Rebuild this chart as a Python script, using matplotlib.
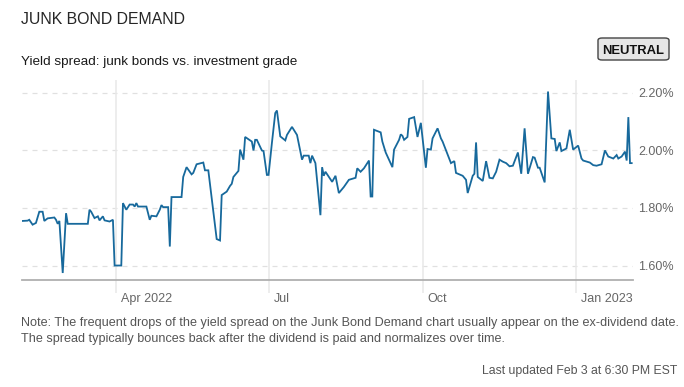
import matplotlib
matplotlib.use("Agg")
import matplotlib.pyplot as plt
import matplotlib.transforms as mtransforms
from matplotlib.patches import FancyBboxPatch
import pandas as pd

plt.rcParams['font.family'] = ['Liberation Sans', 'DejaVu Sans']

# spread readings, days counted from the first date
start_date = '2022-02-04'
day_offset = [0, 3, 4, 6, 8, 10, 12, 13, 15, 19, 20, 21, 22, 24, 26, 27, 39, 40, 41, 43,
              45, 46, 48, 49, 52, 54, 55, 59, 60, 62, 64, 66, 67, 68, 69, 74, 76, 77, 80, 82,
              83, 84, 87, 88, 89, 95, 96, 98, 101, 102, 104, 108, 109, 111, 116, 118, 119, 122, 124, 125,
              126, 129, 130, 132, 133, 137, 138, 139, 140, 143, 144, 146, 147, 149, 151, 152, 154, 157, 158, 161,
              164, 167, 168, 171, 172, 173, 175, 178, 179, 180, 181, 185, 187, 189, 192, 195, 199, 200, 202, 204,
              207, 208, 209, 210, 214, 215, 217, 221, 222, 225, 226, 227, 228, 230, 231, 234, 236, 238, 241, 242,
              244, 245, 248, 250, 251, 256, 258, 259, 263, 265, 266, 269, 270, 271, 272, 275, 277, 279, 281, 283,
              285, 287, 289, 291, 293, 296, 298, 300, 302, 305, 306, 308, 309, 312, 314, 316, 318, 319, 321, 322,
              325, 327, 329, 332, 334, 335, 339, 341, 343, 346, 348, 350, 353, 355, 356, 358, 360, 361, 362, 363,
              364]
spread = [1.755, 1.756, 1.759, 1.742, 1.748, 1.787, 1.787, 1.755, 1.764, 1.767, 1.759, 1.745, 1.755, 1.574, 1.782, 1.745, 1.745, 1.794, 1.787, 1.765,
          1.771, 1.757, 1.771, 1.757, 1.753, 1.759, 1.600, 1.600, 1.817, 1.794, 1.812, 1.812, 1.805, 1.817, 1.805, 1.805, 1.759, 1.773, 1.771, 1.794,
          1.810, 1.803, 1.803, 1.666, 1.838, 1.838, 1.908, 1.942, 1.917, 1.922, 1.952, 1.958, 1.931, 1.931, 1.692, 1.687, 1.845, 1.857, 1.877, 1.884,
          1.908, 1.929, 2.003, 1.968, 2.047, 2.031, 2.000, 2.037, 2.037, 2.000, 1.998, 1.915, 1.915, 2.026, 2.130, 2.139, 2.049, 2.035, 2.054, 2.082,
          2.054, 1.968, 1.982, 1.982, 1.956, 1.982, 1.956, 1.775, 1.942, 1.912, 1.926, 1.891, 1.912, 1.852, 1.873, 1.898, 1.905, 1.938, 1.926, 1.938,
          1.965, 1.840, 1.840, 2.072, 2.063, 2.031, 1.993, 1.942, 2.003, 2.037, 2.056, 2.051, 2.037, 2.047, 2.110, 2.116, 2.047, 2.096, 1.940, 2.005,
          2.003, 2.042, 2.077, 2.042, 2.031, 1.956, 1.963, 1.922, 1.912, 1.898, 1.852, 1.912, 1.919, 2.028, 1.908, 1.894, 1.963, 1.905, 1.903, 1.926,
          1.968, 1.961, 1.956, 1.945, 1.947, 1.993, 1.919, 2.077, 1.919, 1.977, 1.975, 1.940, 1.940, 1.889, 2.205, 2.042, 2.040, 1.998, 2.028, 1.998,
          2.007, 2.072, 2.003, 2.017, 1.972, 1.965, 1.958, 1.949, 1.947, 1.952, 2.000, 1.979, 1.972, 1.984, 1.972, 1.979, 1.996, 1.965, 2.116, 1.956,
          1.956]

y_ticks = [1.6, 1.8, 2.0, 2.2]
x_ticks = ['2022-04-01', '2022-07-01', '2022-10-01', '2023-01-01']
x_labels = ['Apr 2022', 'Jul', 'Oct', 'Jan 2023']

dates = pd.Timestamp(start_date) + pd.to_timedelta(day_offset, unit='D')

fig = plt.figure(figsize=(6.84, 3.87), dpi=100)
ax = fig.add_axes([0.032, 0.276, 0.893, 0.518])

ax.plot(dates, spread, color='#17699c', lw=1.3, solid_joinstyle='miter')

ax.set_ylim(1.549, 2.246)
ax.set_xlim(pd.Timestamp(start_date) - pd.Timedelta(days=0.4), pd.Timestamp(start_date) + pd.Timedelta(days=364.6))

# y axis on the right with dashed grid
ax.yaxis.tick_right()
ax.set_yticks(y_ticks)
ax.set_yticklabels([f'{v:.2f}%' for v in y_ticks])
for v in y_ticks:
    ax.axhline(v, color='#e0e0e0', lw=0.9, ls=(0, (4, 4)), zorder=0)
ax.tick_params(axis='y', length=0, pad=4, labelsize=9.0, labelcolor='#666666')

# x ticks: solid gridlines that run below the axis, labels to the right
xt = [pd.Timestamp(d) for d in x_ticks]
ax.set_xticks(xt)
ax.set_xticklabels(x_labels)
for d in xt:
    ax.axvline(d, color='#e8e8e8', lw=1.1, zorder=0)
ax.tick_params(axis='x', length=9, width=1.1, color='#e8e8e8', pad=0,
               labelsize=9.0, labelcolor='#666666')
offset = mtransforms.ScaledTranslation(5 / 100, 0, fig.dpi_scale_trans)
for lbl in ax.get_xticklabels():
    lbl.set_horizontalalignment('left')
    lbl.set_transform(lbl.get_transform() + offset)

for s in ['top', 'left', 'right']:
    ax.spines[s].set_visible(False)
ax.spines['bottom'].set_color('#b0b0b0')
ax.spines['bottom'].set_linewidth(1.3)

# header
fig.text(21 / 684, 1 - 19 / 387, 'JUNK BOND DEMAND', fontsize=11.4, color='#262626',
         ha='left', va='center')
fig.text(21 / 684, 1 - 61.5 / 387, 'Yield spread: junk bonds vs. investment grade',
         fontsize=9.7, color='#1a1a1a', ha='left', va='center')

badge = FancyBboxPatch((598 / 684, 1 - 60 / 387), 71 / 684, 22 / 387,
                       boxstyle='round,pad=0,rounding_size=0.006', transform=fig.transFigure,
                       facecolor='#e6e6e6', edgecolor='#444444', lw=1.0)
fig.patches.append(badge)
fig.text(633.5 / 684, 1 - 49 / 387, 'NEUTRAL', fontsize=9.4, fontweight='bold',
         color='#111111', ha='center', va='center_baseline')

# footnotes
fig.text(21 / 684, 1 - 323 / 387,
         'Note: The frequent drops of the yield spread on the Junk Bond Demand chart usually appear on the ex-dividend date.',
         fontsize=9.1, color='#555555', ha='left', va='center')
fig.text(21 / 684, 1 - 339 / 387,
         'The spread typically bounces back after the dividend is paid and normalizes over time.',
         fontsize=9.1, color='#555555', ha='left', va='center')
fig.text(677 / 684, 1 - 371 / 387, 'Last updated Feb 3 at 6:30 PM EST',
         fontsize=8.85, color='#555555', ha='right', va='center')

fig.savefig('out.png', dpi=100)
